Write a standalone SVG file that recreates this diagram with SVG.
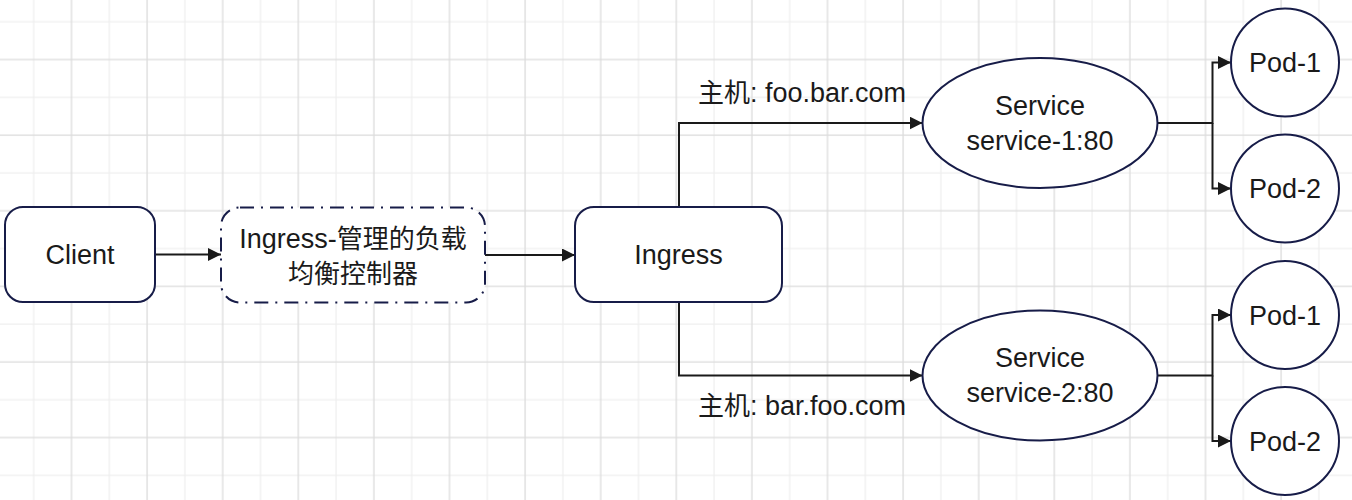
<svg xmlns="http://www.w3.org/2000/svg" width="1352" height="500" viewBox="0 0 1352 500">
  <defs>
    <pattern id="grid" x="23.7" y="11.7" width="75.6" height="75.6" patternUnits="userSpaceOnUse">
      <path d="M10,0 V75.6 M0,10 H75.6" stroke="#efefef" stroke-width="1.3" fill="none"/>
      <path d="M47.8,0 V75.6 M0,47.8 H75.6" stroke="#dcdcdc" stroke-width="1.3" fill="none"/>
    </pattern>
    <marker id="arrow" markerUnits="userSpaceOnUse" markerWidth="14" markerHeight="14" refX="13" refY="6.5" orient="auto">
      <path d="M0,0 L13,6.5 L0,13 Z" fill="#1a1a1a"/>
    </marker>
    <style>
      .node { fill: #ffffff; stroke: #171c48; stroke-width: 2; }
      .dash { stroke-dasharray: 14 7 2 7; }
      .edge { fill: none; stroke: #1a1a1a; stroke-width: 2; }
      .t { font-family: "Liberation Sans", "Noto Sans CJK SC", sans-serif; font-size: 27px; fill: #1a1a1a; text-anchor: middle; }
      .c { font-family: "Noto Sans CJK SC", sans-serif; font-size: 26px; }
    </style>
  </defs>

  <rect x="0" y="0" width="1352" height="500" fill="#ffffff"/>
  <rect x="0" y="0" width="1352" height="500" fill="url(#grid)"/>

  <g id="connectors">
    <path class="edge" d="M155,254.5 H221" marker-end="url(#arrow)"/>
    <path class="edge" d="M485,255 H575" marker-end="url(#arrow)"/>
    <path class="edge" d="M679,207 V123 H922.5" marker-end="url(#arrow)"/>
    <path class="edge" d="M679,302 V375.5 H922.5" marker-end="url(#arrow)"/>
    <path class="edge" d="M1157.5,123 H1212.5 V62.5 H1231" marker-end="url(#arrow)"/>
    <path class="edge" d="M1212.5,123 V188.5 H1231" marker-end="url(#arrow)"/>
    <path class="edge" d="M1157.5,375.5 H1212.5 V315 H1231" marker-end="url(#arrow)"/>
    <path class="edge" d="M1212.5,375.5 V441 H1231" marker-end="url(#arrow)"/>
    <text class="t" x="802" y="102"><tspan class="c">主机</tspan>: foo.bar.com</text>
    <text class="t" x="802" y="415"><tspan class="c">主机</tspan>: bar.foo.com</text>
  </g>

  <g id="client">
    <rect class="node" x="5" y="207" width="150" height="95" rx="18" ry="18"/>
    <text class="t" x="80" y="264">Client</text>
  </g>

  <g id="lb-controller">
    <rect class="node dash" x="221" y="207.5" width="264" height="95" rx="19" ry="19"/>
    <text class="t" x="353" y="248">Ingress-<tspan class="c">管理的负载</tspan></text>
    <text class="t c" x="353" y="283">均衡控制器</text>
  </g>

  <g id="ingress">
    <rect class="node" x="575" y="207" width="207" height="95" rx="19" ry="19"/>
    <text class="t" x="678.5" y="264">Ingress</text>
  </g>

  <g id="service-1">
    <ellipse class="node" cx="1040" cy="123" rx="117.5" ry="65"/>
    <text class="t" x="1040" y="115">Service</text>
    <text class="t" x="1040" y="150">service-1:80</text>
  </g>

  <g id="service-2">
    <ellipse class="node" cx="1040" cy="375.5" rx="117.5" ry="65"/>
    <text class="t" x="1040" y="367">Service</text>
    <text class="t" x="1040" y="402">service-2:80</text>
  </g>

  <g id="pod-1a">
    <circle class="node" cx="1285" cy="62.5" r="54"/>
    <text class="t" x="1285" y="72">Pod-1</text>
  </g>
  <g id="pod-2a">
    <circle class="node" cx="1285" cy="188.5" r="54"/>
    <text class="t" x="1285" y="198">Pod-2</text>
  </g>
  <g id="pod-1b">
    <circle class="node" cx="1285" cy="315" r="54"/>
    <text class="t" x="1285" y="324.5">Pod-1</text>
  </g>
  <g id="pod-2b">
    <circle class="node" cx="1285" cy="441" r="54"/>
    <text class="t" x="1285" y="450.5">Pod-2</text>
  </g>
</svg>
